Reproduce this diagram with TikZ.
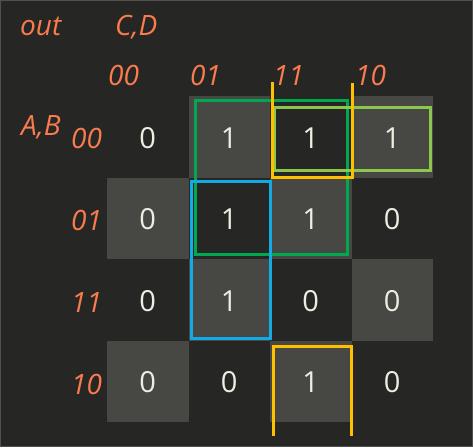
\documentclass[tikz,border=0pt]{standalone}
\usepackage{fontspec}
\setmainfont{Open Sans}
\definecolor{bg}{RGB}{38,38,36}
\definecolor{cellhi}{RGB}{71,71,67}
\definecolor{lbl}{RGB}{250,124,78}
\definecolor{digit}{RGB}{236,238,226}
\definecolor{grp}{RGB}{0,168,80}
\definecolor{lgrp}{RGB}{140,198,76}
\definecolor{ylw}{RGB}{255,192,0}
\definecolor{blu}{RGB}{20,170,230}
\definecolor{frame}{RGB}{80,80,78}
\begin{document}
\begin{tikzpicture}[x=1pt,y=-1pt,
  lab/.style={text=lbl,font=\fontsize{28}{32}\selectfont\itshape,inner sep=0pt,anchor=base west},
  dig/.style={text=digit,font=\fontsize{29}{33}\selectfont,inner sep=0pt},
  grpline/.style={line width=3pt}]
\fill[bg] (0,0) rectangle (473,447);
\draw[frame,line width=1.2pt] (0.6,0.6) rectangle (472.4,446.4);
\useasboundingbox (0,0) rectangle (473,447);
% highlighted cells (checkerboard)
\foreach \r/\c in {0/1,0/3,1/0,1/2,2/1,2/3,3/0,3/2}{
  \fill[cellhi] ({107+\c*81.5},{96+\r*81.5}) rectangle ++(81.5,81.5);
}
% labels
\node[lab] (out) at (20,35) {out};
\node[lab] (cd) at (115,35) {C,D};
\node[lab] (ab) at (21,135) {A,B};
\node[lab] (c0) at (108,85) {00};
\node[lab] (c1) at (190,85) {01};
\node[lab] (c2) at (273,85) {11};
\node[lab] (c3) at (355,85) {10};
\node[lab] (r0) at (71,148) {00};
\node[lab] (r1) at (71,230) {01};
\node[lab] (r2) at (71,312) {11};
\node[lab] (r3) at (71,394) {10};
% cell values
\foreach \r/\row in {0/{0,1,1,1},1/{0,1,1,0},2/{0,1,0,0},3/{0,0,1,0}}{
  \foreach \v [count=\c from 0] in \row {
    \node[dig] (v\r\c) at ({107+\c*81.5+40.75},{96+\r*81.5+42}) {\v};
  }
}
% groups
\draw[grpline,grp] (195,100) rectangle (347,254);
\draw[grpline,lgrp] (274,107) rectangle (430,170);
\draw[grpline,blu] (191,181) rectangle (270,338);
\draw[grpline,ylw] (272,82) -- (272,177) -- (352,177) -- (352,83);
\draw[grpline,ylw] (273,436) -- (273,346) -- (351,346) -- (351,436);
\end{tikzpicture}
\end{document}
